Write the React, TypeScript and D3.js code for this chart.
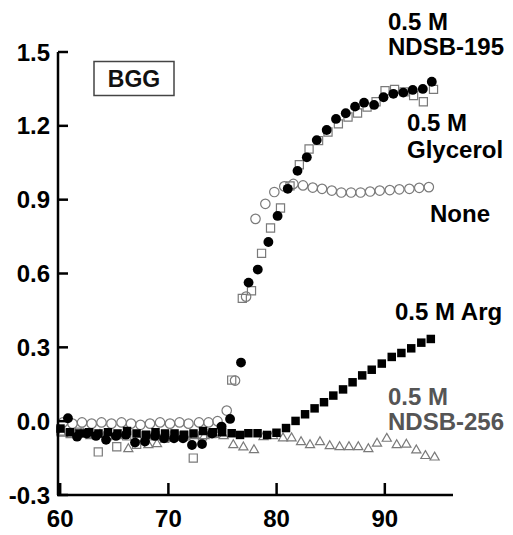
import React from "react";
import * as d3 from "d3";

// [temperature °C, signal]
const ndsb195: [number, number][] = [
  [60.72, 0.012], [61.56, -0.063], [62.45, -0.05], [63.31, -0.06], [64.24, -0.076],
  [65.16, -0.06], [66.08, -0.055], [66.92, -0.087], [67.84, -0.083], [68.76, -0.06],
  [69.6, -0.07], [70.52, -0.07], [71.35, -0.07], [72.18, -0.097], [73.11, -0.093],
  [74.03, -0.05], [74.91, -0.022], [75.7, 0.009], [76.71, 0.238], [77.41, 0.563],
  [78.26, 0.616], [79.24, 0.728], [80.09, 0.834], [81.03, 0.944], [81.93, 1.017],
  [82.79, 1.072], [83.71, 1.142], [84.63, 1.183], [85.49, 1.228], [86.39, 1.251],
  [87.25, 1.278], [88.08, 1.294], [89.01, 1.285], [89.88, 1.316], [90.79, 1.33],
  [91.71, 1.335], [92.58, 1.346], [93.51, 1.35], [94.34, 1.379],
];

const glycerol: [number, number][] = [
  [60.05, -0.04], [60.92, -0.05], [61.79, -0.045], [62.66, -0.05], [63.52, -0.125],
  [64.37, -0.06], [65.23, -0.104], [66.15, -0.06], [67.07, -0.094], [67.93, -0.06],
  [68.8, -0.06], [69.67, -0.07], [70.54, -0.06], [71.41, -0.06], [72.3, -0.15],
  [73.15, -0.06], [74.03, -0.05], [74.91, -0.03], [75.85, 0.167], [76.83, 0.499],
  [77.68, 0.53], [78.61, 0.682], [79.44, 0.785], [80.36, 0.866], [81.24, 0.956],
  [82.1, 1.042], [83.0, 1.106], [83.88, 1.14], [84.75, 1.175], [85.71, 1.208],
  [86.6, 1.236], [87.48, 1.252], [88.36, 1.276], [89.19, 1.298], [90.02, 1.343],
  [90.9, 1.348], [91.78, 1.338], [92.66, 1.323], [93.56, 1.298], [94.5, 1.348],
];

const none: [number, number][] = [
  [60.26, -0.005], [61.14, -0.01], [62.02, -0.005], [62.91, -0.01], [63.82, -0.005],
  [64.74, -0.01], [65.67, -0.005], [66.55, -0.01], [67.42, -0.015], [68.3, -0.01],
  [69.23, -0.005], [70.15, -0.01], [71.03, -0.005], [71.86, -0.01], [72.83, -0.005],
  [73.71, -0.005], [74.54, 0.0], [75.39, 0.043], [76.16, 0.165], [77.18, 0.506],
  [78.05, 0.822], [78.96, 0.883], [79.79, 0.931], [80.71, 0.954], [81.55, 0.964],
  [82.44, 0.958], [83.34, 0.949], [84.2, 0.944], [85.1, 0.937], [85.98, 0.929],
  [86.88, 0.929], [87.76, 0.929], [88.64, 0.933], [89.53, 0.937], [90.46, 0.939],
  [91.34, 0.942], [92.27, 0.944], [93.18, 0.948], [94.07, 0.951],
];

const arg: [number, number][] = [
  [60.03, -0.03], [60.91, -0.045], [61.79, -0.05], [62.67, -0.045], [63.54, -0.05],
  [64.42, -0.045], [65.3, -0.05], [66.18, -0.04], [67.06, -0.05], [67.93, -0.055],
  [68.81, -0.045], [69.69, -0.05], [70.57, -0.05], [71.45, -0.055], [72.32, -0.05],
  [73.2, -0.04], [74.1, -0.045], [74.96, -0.045], [75.85, -0.049], [76.62, -0.056],
  [77.39, -0.049], [78.24, -0.049], [79.12, -0.056], [79.99, -0.047], [80.87, -0.028],
  [81.75, 0.001], [82.63, 0.028], [83.51, 0.052], [84.38, 0.077], [85.24, 0.104],
  [86.14, 0.129], [87.02, 0.158], [87.91, 0.186], [88.79, 0.209], [89.72, 0.234],
  [90.64, 0.261], [91.53, 0.277], [92.44, 0.296], [93.37, 0.319], [94.25, 0.334],
];

const ndsb256: [number, number][] = [
  [60.17, -0.05], [61.05, -0.055], [61.93, -0.05], [62.8, -0.06], [63.68, -0.055],
  [64.56, -0.06], [65.44, -0.06], [66.3, -0.113], [67.19, -0.07], [68.15, -0.097],
  [68.95, -0.093], [69.83, -0.07], [70.71, -0.06], [71.58, -0.065], [72.46, -0.06],
  [73.34, -0.06], [74.22, -0.055], [75.1, -0.06], [76.0, -0.097], [76.93, -0.106],
  [77.91, -0.117], [78.79, -0.064], [79.67, -0.06], [80.59, -0.069], [81.38, -0.069],
  [82.26, -0.085], [83.09, -0.097], [84.01, -0.085], [84.91, -0.101], [85.82, -0.105],
  [86.69, -0.105], [87.55, -0.105], [88.48, -0.113], [89.28, -0.091], [90.18, -0.071],
  [91.1, -0.097], [91.99, -0.095], [92.91, -0.118], [93.75, -0.141], [94.6, -0.147],
];

const xTicks = [60, 70, 80, 90];
const yTicks = [-0.3, 0, 0.3, 0.6, 0.9, 1.2, 1.5];
const boxLabel = "BGG";

const W = 513;
const H = 535;
const FONT = "'Liberation Sans', Arial, Helvetica, sans-serif";
const GRAY = "#7a7a7a";

export default function App() {
  const x = d3.scaleLinear().domain([59.8, 96.3]).range([58, 453]);
  const y = d3.scaleLinear().domain([-0.3, 1.5]).range([495, 52]);
  const x0 = x.range()[0];
  const y0 = y.range()[0];

  const circle = d3.symbol().type(d3.symbolCircle).size(76)()!;
  const openCircle = d3.symbol().type(d3.symbolCircle).size(70)()!;
  const square = d3.symbol().type(d3.symbolSquare).size(72)()!;
  const openSquare = d3.symbol().type(d3.symbolSquare).size(66)()!;
  const triangle = d3.symbol().type(d3.symbolTriangle).size(36)()!;

  const marks = (
    data: [number, number][],
    path: string,
    fill: string,
    stroke: string,
    key: string
  ) =>
    data.map(([t, v], i) => (
      <path
        key={key + i}
        d={path}
        transform={`translate(${x(t)},${y(v)})`}
        fill={fill}
        stroke={stroke}
        strokeWidth={1.2}
      />
    ));

  const labelStyle = { fontFamily: FONT, fontWeight: 700, fontSize: 24 } as const;
  const tickStyle = { fontFamily: FONT, fontWeight: 700, fontSize: 24 } as const;

  return (
    <svg
      width={W}
      height={H}
      style={{ position: "absolute", left: 0, top: 0, background: "#fff" }}
    >
      {/* data */}
      <g>
        {marks(ndsb256, triangle, "none", GRAY, "t")}
        {marks(glycerol, openSquare, "none", GRAY, "g")}
        {marks(none, openCircle, "none", GRAY, "n")}
        {marks(arg, square, "#000", "none", "a")}
        {marks(ndsb195, circle, "#000", "none", "c")}
      </g>

      {/* axes */}
      <g stroke="#000" strokeWidth={2.5} fill="none">
        <line x1={x0} x2={x0} y1={y(1.5)} y2={y0} />
        <line x1={x0 - 1} x2={x(96.3)} y1={y0} y2={y0} />
        {yTicks.map((t) => (
          <line key={"yt" + t} x1={x0} x2={x0 + 10} y1={y(t)} y2={y(t)} />
        ))}
        {xTicks.map((t) => (
          <line key={"xt" + t} x1={x(t)} x2={x(t)} y1={y0} y2={y0 - 12} />
        ))}
      </g>
      <g style={tickStyle} fill="#000">
        {yTicks.map((t) => (
          <text key={"yl" + t} x={50} y={y(t)} dy="0.36em" textAnchor="end">
            {t.toFixed(1)}
          </text>
        ))}
        {xTicks.map((t) => (
          <text key={"xl" + t} x={x(t)} y={527} textAnchor="middle">
            {t}
          </text>
        ))}
      </g>

      {/* box label */}
      <rect x={94} y={61.5} width={80} height={34} fill="#fff" stroke="#444" strokeWidth={1.5} />
      <text x={134} y={87} textAnchor="middle" style={{ ...labelStyle, fontSize: 23 }} fill="#111">
        {boxLabel}
      </text>

      {/* series labels */}
      <g style={labelStyle} fill="#000">
        <text x={388} y={30}>0.5 M</text>
        <text x={388} y={55}>NDSB-195</text>
        <text x={407} y={131}>0.5 M</text>
        <text x={407} y={158}>Glycerol</text>
        <text x={430} y={222}>None</text>
        <text x={395} y={320}>0.5 M Arg</text>
      </g>
      <g style={labelStyle} fill="#555">
        <text x={388} y={405}>0.5 M</text>
        <text x={388} y={430}>NDSB-256</text>
      </g>
    </svg>
  );
}
